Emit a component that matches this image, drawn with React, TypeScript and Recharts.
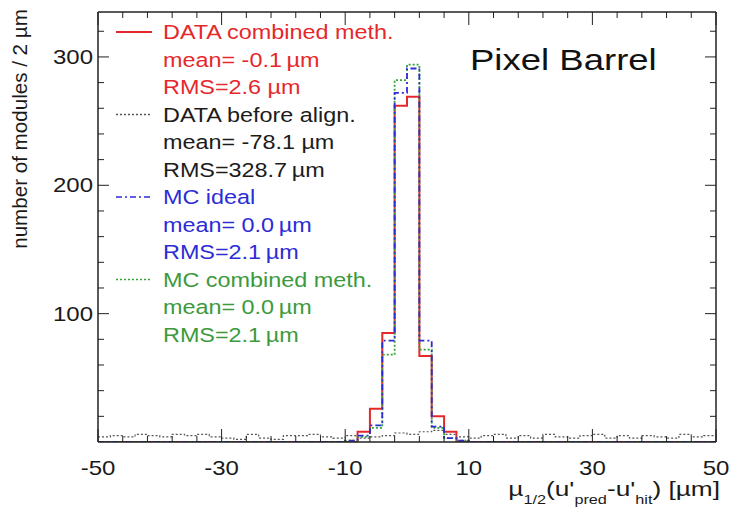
import React from 'react';
import { ComposedChart, Line, XAxis, YAxis } from 'recharts';

// bin edges (2 µm bins)
const binEdges = [
  -50, -48, -46, -44, -42, -40, -38, -36, -34, -32,
  -30, -28, -26, -24, -22, -20, -18, -16, -14, -12,
  -10, -8, -6, -4, -2, 0, 2, 4, 6, 8,
  10, 12, 14, 16, 18, 20, 22, 24, 26, 28,
  30, 32, 34, 36, 38, 40, 42, 44, 46, 48, 50,
];

// bin contents (50 bins)
const dataCombined = [
  0, 0, 0, 0, 0, 0, 0, 0, 0, 0,
  0, 0, 0, 0, 0, 0, 0, 0, 0, 0,
  0, 8, 26, 85, 262, 269, 67, 20, 8, 0,
  0, 0, 0, 0, 0, 0, 0, 0, 0, 0,
  0, 0, 0, 0, 0, 0, 0, 0, 0, 0,
];
const dataBefore = [
  4, 5, 4, 6, 5, 4, 6, 5, 6, 4,
  3, 2, 6, 3, 2, 5, 5, 6, 4, 3,
  5, 3, 4, 5, 7, 6, 8, 9, 6, 4,
  3, 5, 6, 3, 5, 3, 6, 4, 3, 5,
  6, 3, 5, 3, 5, 4, 3, 6, 4, 5,
];
const mcIdeal = [
  0, 0, 0, 0, 0, 0, 0, 0, 0, 0,
  0, 0, 0, 0, 0, 0, 0, 0, 0, 0,
  1, 5, 13, 79, 272, 291, 79, 12, 3, 1,
  0, 0, 0, 0, 0, 0, 0, 0, 0, 0,
  0, 0, 0, 0, 0, 0, 0, 0, 0, 0,
];
const mcCombined = [
  0, 0, 0, 0, 0, 0, 0, 0, 0, 0,
  0, 0, 0, 0, 0, 0, 0, 0, 0, 0,
  1, 4, 11, 68, 282, 294, 72, 11, 3, 1,
  0, 0, 0, 0, 0, 0, 0, 0, 0, 0,
  0, 0, 0, 0, 0, 0, 0, 0, 0, 0,
];

const xTicks = [-50, -46, -42, -38, -34, -30, -26, -22, -18, -14, -10, -6, -2, 2, 6, 10, 14, 18, 22, 26, 30, 34, 38, 42, 46, 50];
const xMajorLabels = [-50, -30, -10, 10, 30, 50];
const yTicks = [20, 40, 60, 80, 100, 120, 140, 160, 180, 200, 220, 240, 260, 280, 300, 320];
const yMajorLabels = [100, 200, 300];

const legendEntries = [
  { title: 'DATA combined meth.', mean: 'mean= -0.1\u2009µm', rms: 'RMS=2.6 µm' },
  { title: 'DATA before align.', mean: 'mean= -78.1 µm', rms: 'RMS=328.7\u2009µm' },
  { title: 'MC ideal', mean: 'mean= 0.0\u2009µm', rms: 'RMS=2.1\u2009µm' },
  { title: 'MC combined meth.', mean: 'mean= 0.0\u2009µm', rms: 'RMS=2.1\u2009µm' },
];

const RED = '#e5282c';
const BLUE = '#2c2cd6';
const GREEN = '#35a235';
const TEXTCOLORS = [RED, '#1c1c1c', BLUE, '#3c9a3c'];
const DASHES: (string | undefined)[] = [undefined, '2 2', '6 3 2 3', '2 2'];
const LINECOLORS = [RED, '#555', BLUE, GREEN];

const chartData = binEdges.map((x, i) => {
  const j = Math.min(i, dataCombined.length - 1);
  return {
    x,
    combined: dataCombined[j],
    before: dataBefore[j],
    ideal: mcIdeal[j],
    mcComb: mcCombined[j],
  };
});

const FONT = '"Liberation Sans", Arial, Helvetica, sans-serif';
const SX = 1.2;
const AX = '#222';

const BottomTick = (p: any) => {
  const { x, y, payload } = p;
  const v = payload.value;
  const major = xMajorLabels.includes(v);
  return (
    <g>
      <line x1={x} y1={y} x2={x} y2={y - (major ? 13 : 6)} stroke={AX} strokeWidth={1} />
      {major && (
        <text
          transform={`translate(${x},${y + 33}) scale(${SX},1)`}
          textAnchor="middle"
          fontFamily={FONT}
          fontSize={20}
          fill="#1a1a1a"
        >
          {v}
        </text>
      )}
    </g>
  );
};

const TopTick = (p: any) => {
  const { x, y, payload } = p;
  const major = xMajorLabels.includes(payload.value);
  return <line x1={x} y1={y} x2={x} y2={y + (major ? 13 : 6)} stroke={AX} strokeWidth={1} />;
};

const LeftTick = (p: any) => {
  const { x, y, payload } = p;
  const v = payload.value;
  const major = yMajorLabels.includes(v);
  return (
    <g>
      <line x1={x} y1={y} x2={x + (major ? 11 : 6)} y2={y} stroke={AX} strokeWidth={1} />
      {major && (
        <text
          transform={`translate(${x - 5},${y + 7}) scale(${SX},1)`}
          textAnchor="end"
          fontFamily={FONT}
          fontSize={20}
          fill="#1a1a1a"
        >
          {v}
        </text>
      )}
    </g>
  );
};

const RightTick = (p: any) => {
  const { x, y, payload } = p;
  const major = yMajorLabels.includes(payload.value);
  return <line x1={x} y1={y} x2={x - (major ? 11 : 6)} y2={y} stroke={AX} strokeWidth={1} />;
};

const Annotations = () => {
  const lines: React.ReactNode[] = [];
  legendEntries.forEach((e, k) => {
    const base = 39 + 27.5 * (3 * k);
    lines.push(
      <line
        key={`l${k}`}
        x1={116}
        x2={152}
        y1={base - 7}
        y2={base - 7}
        stroke={LINECOLORS[k]}
        strokeWidth={k === 0 ? 2 : 1.5}
        strokeDasharray={DASHES[k]}
      />
    );
    [e.title, e.mean, e.rms].forEach((t, r) => {
      lines.push(
        <text
          key={`t${k}-${r}`}
          transform={`translate(163,${base + 27.5 * r}) scale(${SX},1)`}
          fontFamily={FONT}
          fontSize={19.5}
          fill={TEXTCOLORS[k]}
        >
          {t}
        </text>
      );
    });
  });
  return (
    <g>
      {lines}
      <text transform={`translate(470,70) scale(1.26,1)`} fontFamily={FONT} fontSize={29} fill="#111">
        Pixel Barrel
      </text>
      <text
        transform="translate(27,129) rotate(-90)"
        textAnchor="middle"
        fontFamily={FONT}
        fontSize={20.6}
        fill="#1a1a1a"
      >
        number of modules / 2 µm
      </text>
      <text transform={`translate(720,496) scale(1.25,1)`} textAnchor="end" fontFamily={FONT} fontSize={21} fill="#1a1a1a">
        µ
        <tspan fontSize={13} dy={8}>1/2</tspan>
        <tspan dy={-8}>(u'</tspan>
        <tspan fontSize={13} dy={8}>pred</tspan>
        <tspan dy={-8}>-u'</tspan>
        <tspan fontSize={13} dy={8}>hit</tspan>
        <tspan dy={-8}>) [µm]</tspan>
      </text>
    </g>
  );
};

export default function App() {
  return (
    <div style={{ position: 'absolute', left: 0, top: 0, width: 733, height: 513, background: '#fff' }}>
      <ComposedChart
        width={733}
        height={513}
        data={chartData}
        margin={{ top: 10, right: 15, bottom: 31, left: 38 }}
      >
        <XAxis
          xAxisId="b"
          dataKey="x"
          type="number"
          domain={[-50, 50]}
          ticks={xTicks}
          interval={0}
          height={40}
          tickSize={0}
          tickMargin={0}
          tickLine={false}
          axisLine={{ stroke: AX, strokeWidth: 1.5 }}
          tick={BottomTick}
          allowDataOverflow
        />
        <XAxis
          xAxisId="t"
          orientation="top"
          dataKey="x"
          type="number"
          domain={[-50, 50]}
          ticks={xTicks}
          interval={0}
          height={2}
          tickSize={0}
          tickMargin={0}
          tickLine={false}
          axisLine={{ stroke: AX, strokeWidth: 1.5 }}
          tick={TopTick}
          allowDataOverflow
        />
        <YAxis
          yAxisId="l"
          type="number"
          domain={[0, 335]}
          ticks={yTicks}
          interval={0}
          width={60}
          tickSize={0}
          tickMargin={0}
          tickLine={false}
          axisLine={{ stroke: AX, strokeWidth: 1.5 }}
          tick={LeftTick}
          allowDataOverflow
        />
        <YAxis
          yAxisId="r"
          orientation="right"
          type="number"
          domain={[0, 335]}
          ticks={yTicks}
          interval={0}
          width={2}
          tickSize={0}
          tickMargin={0}
          tickLine={false}
          axisLine={{ stroke: AX, strokeWidth: 1.5 }}
          tick={RightTick}
          allowDataOverflow
        />
        <Line xAxisId="b" yAxisId="l" type="stepAfter" dataKey="before" stroke="#555" strokeWidth={1.2} strokeDasharray="2 2" dot={false} isAnimationActive={false} />
        <Line xAxisId="b" yAxisId="l" type="stepAfter" dataKey="combined" stroke={RED} strokeWidth={2} dot={false} isAnimationActive={false} />
        <Line xAxisId="b" yAxisId="l" type="stepAfter" dataKey="mcComb" stroke={GREEN} strokeWidth={1.8} strokeDasharray="2 2" dot={false} isAnimationActive={false} />
        <Line xAxisId="b" yAxisId="l" type="stepAfter" dataKey="ideal" stroke={BLUE} strokeWidth={1.8} strokeDasharray="6 3 2 3" dot={false} isAnimationActive={false} />
        <Annotations />
      </ComposedChart>
    </div>
  );
}
